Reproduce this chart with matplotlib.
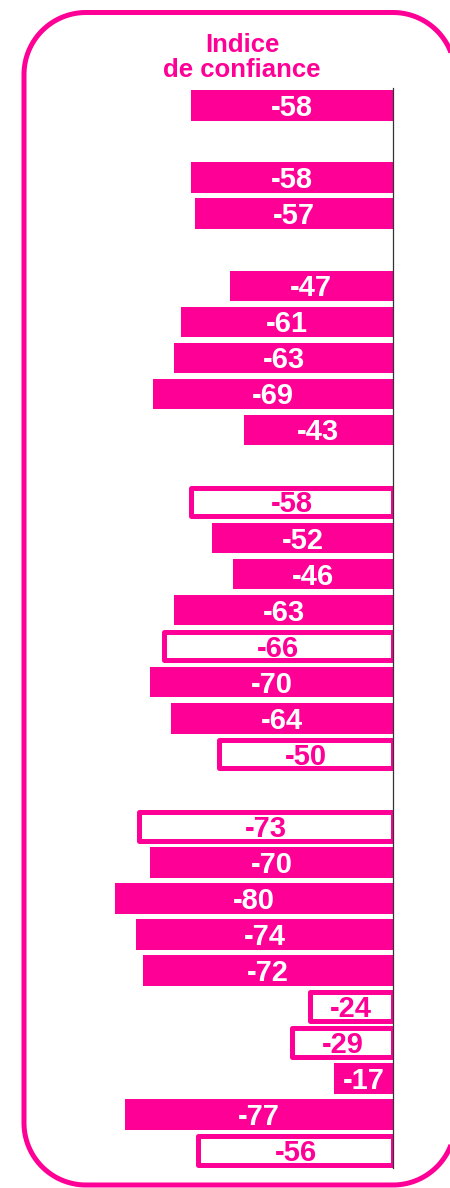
import matplotlib
matplotlib.use("Agg")
import numpy as np
import matplotlib.pyplot as plt
from matplotlib.patches import PathPatch, Rectangle
from matplotlib.path import Path
from matplotlib.transforms import Affine2D

# ---- data ----
values = [-58, None, -58, -57, None, -47, -61, -63, -69, -43, None,
          -58, -52, -46, -63, -66, -70, -64, -50, None,
          -73, -70, -80, -74, -72, -24, -29, -17, -77, -56]
outlined = [False, False, False, False, False, False, False, False, False, False, False,
            True, False, False, False, True, False, False, True, False,
            True, False, False, False, False, True, True, False, False, True]
title_lines = ["Indice", "de confiance"]

MAG = "#FF0096"
W, H = 450, 1188
plt.rcParams['font.family'] = ['Liberation Sans', 'DejaVu Sans']
plt.rcParams['path.simplify'] = False

fig = plt.figure(figsize=(W / 100, H / 100), dpi=100)
ax = fig.add_axes([0, 0, 1, 1])
ax.set_axis_off()

pxu = 3.475          # pixels per unit on x
x0 = 393             # zero position in pixels
slot = 36.03         # pixels per row
y0 = 105.7           # center of first row in pixels
xl = (-x0 / pxu, (W - x0) / pxu)
yl = ((H - y0) / slot, -y0 / slot)
ax.set_xlim(*xl)
ax.set_ylim(*yl)

clip = Rectangle((xl[0], yl[1]), -xl[0], yl[0] - yl[1], transform=ax.transData,
                 facecolor="none", edgecolor="none")
ax.add_patch(clip)

bh = 0.85
for i, (v, o) in enumerate(zip(values, outlined)):
    if v is None:
        continue
    if o:
        bars = ax.barh(i, v, height=bh - 0.06, color="white", edgecolor=MAG,
                       linewidth=3.6, joinstyle="round", zorder=2)
        for b in bars:
            b.set_clip_path(clip)
        tc = MAG
    else:
        ax.barh(i, v, height=bh, color=MAG, edgecolor="none", zorder=2)
        tc = "white"
    ax.text(v / 2, i + 0.29, f"{v}", ha="center", va="baseline",
            fontsize=21, fontweight="bold", color=tc, zorder=4)

# zero line
n = len(values)
ax.plot([0, 0], [-0.49, n - 1 + 0.48], color="#333333", lw=0.9, zorder=3)

# rounded frame in pixel coordinates (y up), drawn as polyline
L, R, B, T, rad = 24, 455, H - 1185, H - 12.5, 62
def arc(cx, cy, a0, a1):
    t = np.radians(np.linspace(a0, a1, 40))
    return np.column_stack([cx + rad * np.cos(t), cy + rad * np.sin(t)])
pts = np.vstack([
    arc(R - rad, T - rad, 0, 90),
    arc(L + rad, T - rad, 90, 180),
    arc(L + rad, B + rad, 180, 270),
    arc(R - rad, B + rad, 270, 360),
])
pts = np.vstack([pts, pts[:1]])
pix = Affine2D().scale(1 / 100) + fig.dpi_scale_trans
frame = PathPatch(Path(pts), facecolor="none", edgecolor=MAG, linewidth=3.6,
                  transform=pix, zorder=1)
fig.patches.append(frame)

# title
fig.text(242 / W, 1 - 52 / H, title_lines[0], ha="center", va="baseline",
         fontsize=18.5, fontweight="bold", color=MAG)
fig.text(242 / W, 1 - 77 / H, title_lines[1], ha="center", va="baseline",
         fontsize=18.5, fontweight="bold", color=MAG)

fig.savefig("out.png", dpi=100)
